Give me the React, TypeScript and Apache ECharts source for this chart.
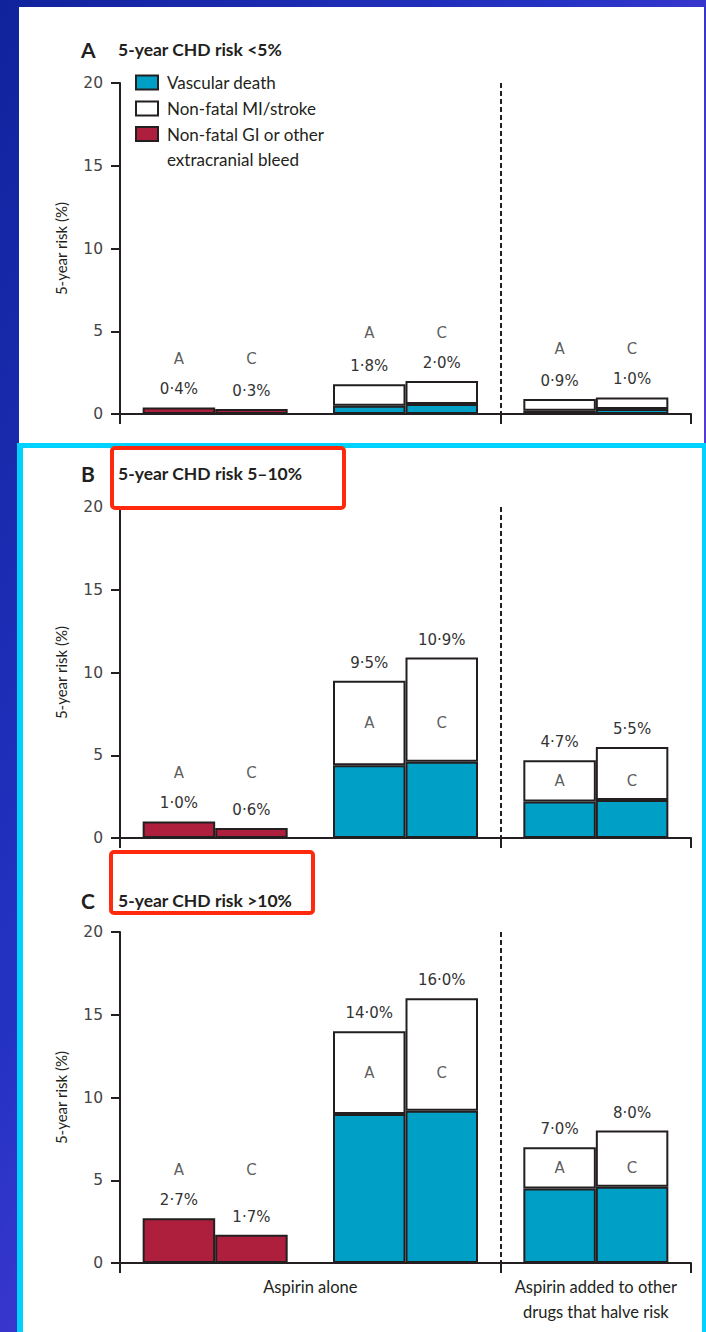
import React, { useEffect, useRef } from "react";
import * as echarts from "echarts";

// ---------- data ----------
const panelLetters = ["A", "B", "C"];
const panelTitles = ["5-year CHD risk <5%", "5-year CHD risk 5–10%", "5-year CHD risk >10%"];
const barGroups = ["Aspirin alone (bleeds)", "Aspirin alone (vascular)", "Aspirin added (vascular)"];
const armLetters = ["A", "C"];
const slotLabels = ["", "", "Aspirin alone", "", "", "Aspirin added to other\ndrugs that halve risk", ""];
const yTicks = [0, 5, 10, 15, 20];
const seriesNames = ["Vascular death", "Non-fatal MI/stroke", "Non-fatal GI or other extracranial bleed"];

// per panel (A, B, C)
const bleedA = [0.4, 1.0, 2.7];
const bleedC = [0.3, 0.6, 1.7];
const vascAloneA = [0.5, 4.4, 9.0];
const vascAloneC = [0.6, 4.6, 9.2];
const totalAloneA = [1.8, 9.5, 14.0];
const totalAloneC = [2.0, 10.9, 16.0];
const vascAddedA = [0.2, 2.2, 4.5];
const vascAddedC = [0.3, 2.3, 4.6];
const totalAddedA = [0.9, 4.7, 7.0];
const totalAddedC = [1.0, 5.5, 8.0];

// ---------- layout / style ----------
const W = 706;
const H = 1332;
const INK = "#231f20";
const TEAL = "#00a0c6";
const RED = "#ad1f3d";
const GRID_TOPS = [83, 507, 932];
const GRID_H = 331;
const BAR_W = 72.5;
const TITLE_Y = [49, 473, 900];
const lettersInside = [false, true, true];
const DIVIDER_SLOT = 4;
const TICK_SLOTS = [0, 4, 6];
const LABEL_FONT = "DejaVu Sans";

const fmt = (v: number) => v.toFixed(1).replace(".", "·") + "%";

function buildOption() {
  const grid: any[] = [];
  const xAxis: any[] = [];
  const yAxis: any[] = [];
  const series: any[] = [];

  const arms = [
    { bleed: bleedA, vAlone: vascAloneA, tAlone: totalAloneA, vAdded: vascAddedA, tAdded: totalAddedA },
    { bleed: bleedC, vAlone: vascAloneC, tAlone: totalAloneC, vAdded: vascAddedC, tAdded: totalAddedC },
  ];

  for (let p = 0; p < 3; p++) {
    grid.push({ left: 120, right: 15, top: GRID_TOPS[p], height: GRID_H, containLabel: false, outerBoundsMode: "none" });
    xAxis.push({ type: "category", gridIndex: p, data: barGroups, show: false, boundaryGap: true });
    xAxis.push({
      type: "category",
      gridIndex: p,
      position: "bottom",
      boundaryGap: false,
      data: slotLabels.map((_, i) => "s" + i),
      axisLine: { show: true, lineStyle: { color: INK, width: 2 } },
      axisTick: {
        show: true,
        length: 10,
        interval: (i: number) => TICK_SLOTS.includes(i),
        lineStyle: { color: INK, width: 2 },
      },
      axisLabel: {
        show: p === 2,
        interval: 0,
        formatter: (_v: string, i: number) => slotLabels[i],
        margin: 11,
        fontFamily: "Lato",
        fontSize: 16.5,
        lineHeight: 25,
        color: INK,
      },
      splitLine: {
        show: true,
        interval: (i: number) => i === DIVIDER_SLOT,
        lineStyle: { color: INK, width: 2, type: [5, 3] },
      },
    });
    yAxis.push({
      type: "value",
      gridIndex: p,
      min: yTicks[0],
      max: yTicks[yTicks.length - 1],
      interval: yTicks[1] - yTicks[0],
      name: "5-year risk (%)",
      nameLocation: "middle",
      nameGap: 52,
      nameTextStyle: { fontFamily: "Lato", fontSize: 15, color: INK },
      axisLine: { show: true, lineStyle: { color: INK, width: 2 } },
      axisTick: { show: true, length: 9, lineStyle: { color: INK, width: 2 } },
      axisLabel: { margin: 17, fontFamily: LABEL_FONT, fontSize: 15.5, color: "#444" },
      splitLine: { show: false },
    });

    const barBase = {
      type: "bar",
      xAxisIndex: 2 * p,
      yAxisIndex: p,
      barWidth: BAR_W,
      barGap: "0%",
      silent: true,
    };
    const labelBase = {
      show: true,
      position: "top",
      distance: 9,
      fontFamily: LABEL_FONT,
      fontSize: 15,
      lineHeight: 18,
      color: "#333",
    };

    arms.forEach((arm, a) => {
      const stack = armLetters[a] + p;
      const totals = [arm.bleed[p], arm.tAlone[p], arm.tAdded[p]];
      series.push({
        ...barBase,
        name: seriesNames[0],
        stack,
        data: [null, arm.vAlone[p], arm.vAdded[p]],
        itemStyle: { color: TEAL, borderColor: INK, borderWidth: 2 },
      });
      series.push({
        ...barBase,
        name: seriesNames[1],
        stack,
        data: [null, arm.tAlone[p] - arm.vAlone[p], arm.tAdded[p] - arm.vAdded[p]],
        itemStyle: { color: "#ffffff", borderColor: INK, borderWidth: 2 },
        label: { ...labelBase, formatter: (pr: any) => fmt(totals[pr.dataIndex]) },
      });
      series.push({
        ...barBase,
        name: seriesNames[2],
        stack,
        data: [arm.bleed[p], null, null],
        itemStyle: { color: RED, borderColor: INK, borderWidth: 2 },
        label: { ...labelBase, formatter: (pr: any) => fmt(totals[pr.dataIndex]) },
      });
    });

    // arm letters (A / C)
    const letterData: any[] = [];
    for (let g = 0; g < 3; g++) {
      const tA = [arms[0].bleed[p], arms[0].tAlone[p], arms[0].tAdded[p]][g];
      const tC = [arms[1].bleed[p], arms[1].tAlone[p], arms[1].tAdded[p]][g];
      const vA = [0, arms[0].vAlone[p], arms[0].vAdded[p]][g];
      const inside = g > 0 && lettersInside[p];
      const y = inside ? (vA + tA) / 2 : Math.max(tA, tC);
      const dy = inside ? 0 : -48;
      armLetters.forEach((L, a) => {
        letterData.push({
          value: [g, y],
          label: { offset: [(a === 0 ? -1 : 1) * (BAR_W / 2), dy], formatter: L },
        });
      });
    }
    series.push({
      type: "scatter",
      name: "arm",
      xAxisIndex: 2 * p,
      yAxisIndex: p,
      symbolSize: 1,
      silent: true,
      z: 5,
      itemStyle: { color: "rgba(0,0,0,0)" },
      label: { show: true, position: "inside", fontFamily: LABEL_FONT, fontSize: 15, color: "#333" },
      data: letterData,
    });
  }

  const title = panelLetters.map((l, p) => ({
    left: 81,
    top: TITLE_Y[p] - 13,
    padding: 0,
    text: `{l|${l}}{t|${panelTitles[p]}}`,
    textStyle: {
      rich: {
        l: { fontFamily: "Lato", fontWeight: "bold", fontSize: 21, width: 37, lineHeight: 26, color: INK },
        t: { fontFamily: "Lato", fontWeight: "bold", fontSize: 17.5, lineHeight: 26, color: INK },
      },
    },
  }));

  const legendBase = {
    orient: "vertical",
    left: 135,
    padding: 0,
    itemGap: 1,
    itemWidth: 22,
    itemHeight: 14,
    icon: "rect",
    selectedMode: false,
    textStyle: { fontFamily: "Lato", fontSize: 17, color: INK, lineHeight: 25, padding: [0, 0, 0, 4] },
  };

  return {
    animation: false,
    backgroundColor: "transparent",
    title,
    legend: [
      {
        ...legendBase,
        top: 70,
        data: seriesNames.slice(0, 2),
      },
      {
        ...legendBase,
        top: 96.5,
        data: seriesNames.slice(2),
        // leading blank line keeps the first text line level with the swatch
        formatter: () => "\nNon-fatal GI or other\nextracranial bleed",
      },
    ],
    grid,
    xAxis,
    yAxis,
    series,
    graphic: [
      {
        type: "rect",
        silent: true,
        z: 10,
        shape: { x: 112, y: 448, width: 232, height: 60, r: 3 },
        style: { fill: "none", stroke: "#ff2a0e", lineWidth: 4 },
      },
      {
        type: "rect",
        silent: true,
        z: 10,
        shape: { x: 111, y: 852, width: 202, height: 61, r: 3 },
        style: { fill: "none", stroke: "#ff2a0e", lineWidth: 4 },
      },
    ],
  };
}

export default function App() {
  const ref = useRef<HTMLDivElement>(null);
  useEffect(() => {
    const chart = echarts.init(ref.current!, null, { renderer: "svg", width: W, height: H });
    chart.setOption(buildOption() as any);
    return () => chart.dispose();
  }, []);
  return (
    <div
      style={{
        position: "absolute",
        left: 0,
        top: 0,
        width: W,
        height: H,
        overflow: "hidden",
        background: "linear-gradient(to bottom right, #10239c 0%, #2533c4 40%, #5a3cdc 70%, #8a44e2 100%)",
      }}
    >
      <div style={{ position: "absolute", left: 19, top: 7, width: 685, height: 436, background: "#ffffff" }} />
      <div style={{ position: "absolute", left: 17, top: 443, width: 689, height: 889, background: "#00d2ff" }} />
      <div style={{ position: "absolute", left: 23, top: 448, width: 679, height: 884, background: "#ffffff" }} />
      <div ref={ref} style={{ position: "absolute", left: 0, top: 0, width: W, height: H }} />
    </div>
  );
}
